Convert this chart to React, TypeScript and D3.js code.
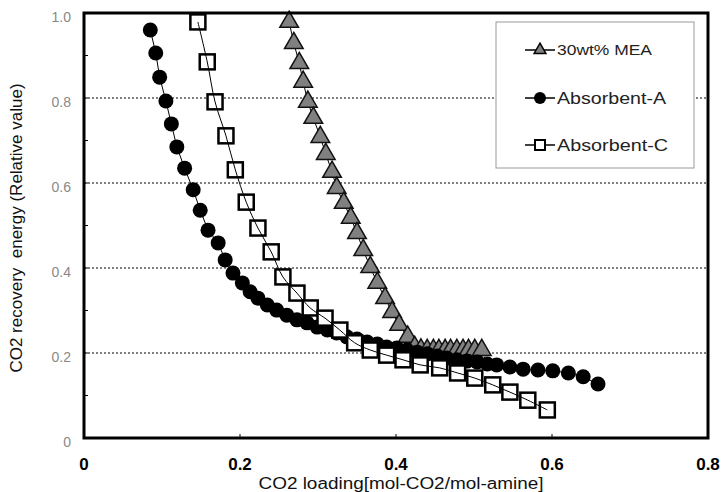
import * as d3 from 'd3';

// CO2 loading (x) vs relative recovery energy (y)
const meaX = [0.263, 0.269, 0.276, 0.281, 0.287, 0.294, 0.303, 0.31, 0.318, 0.324, 0.333, 0.342, 0.35, 0.358, 0.367, 0.376, 0.386, 0.395, 0.404, 0.415, 0.424, 0.432, 0.44, 0.448, 0.455, 0.463, 0.47, 0.478, 0.486, 0.493, 0.501, 0.51];
const meaY = [0.979, 0.929, 0.882, 0.838, 0.791, 0.753, 0.708, 0.668, 0.626, 0.588, 0.553, 0.518, 0.482, 0.442, 0.402, 0.365, 0.329, 0.296, 0.266, 0.238, 0.214, 0.208, 0.207, 0.207, 0.207, 0.207, 0.207, 0.207, 0.207, 0.207, 0.207, 0.207];

const absAX = [0.085, 0.092, 0.097, 0.105, 0.112, 0.119, 0.129, 0.14, 0.149, 0.159, 0.172, 0.181, 0.191, 0.203, 0.213, 0.223, 0.235, 0.247, 0.26, 0.273, 0.286, 0.299, 0.312, 0.324, 0.337, 0.35, 0.363, 0.376, 0.388, 0.401, 0.414, 0.427, 0.44, 0.453, 0.465, 0.478, 0.491, 0.504, 0.517, 0.529, 0.546, 0.563, 0.582, 0.601, 0.621, 0.64, 0.659];
const absAY = [0.96, 0.906, 0.849, 0.793, 0.739, 0.685, 0.635, 0.584, 0.536, 0.489, 0.459, 0.419, 0.388, 0.365, 0.344, 0.329, 0.313, 0.301, 0.289, 0.278, 0.271, 0.261, 0.254, 0.247, 0.238, 0.233, 0.226, 0.221, 0.214, 0.212, 0.207, 0.202, 0.198, 0.193, 0.188, 0.184, 0.181, 0.179, 0.174, 0.172, 0.167, 0.162, 0.16, 0.158, 0.153, 0.144, 0.127];

const absCX = [0.146, 0.158, 0.168, 0.182, 0.194, 0.208, 0.223, 0.24, 0.255, 0.273, 0.29, 0.309, 0.328, 0.347, 0.367, 0.388, 0.409, 0.431, 0.456, 0.479, 0.501, 0.524, 0.546, 0.569, 0.594];
const absCY = [0.979, 0.885, 0.791, 0.711, 0.631, 0.555, 0.494, 0.438, 0.379, 0.341, 0.306, 0.282, 0.254, 0.224, 0.207, 0.195, 0.184, 0.172, 0.165, 0.153, 0.141, 0.125, 0.108, 0.089, 0.066];

const xTicks = [0, 0.2, 0.4, 0.6, 0.8];
const xTickLabels = ['0', '0.2', '0.4', '0.6', '0.8'];
const yTicks = [0, 0.2, 0.4, 0.6, 0.8, 1.0];
const yTickLabels = ['0', '0.2', '0.4', '0.6', '0.8', '1.0'];
const gridValues = [0.2, 0.4, 0.6, 0.8];
const legendLabels = ['30wt% MEA', 'Absorbent-A', 'Absorbent-C'];

const W = 722, H = 492;
const FONT = 'Arial, "Liberation Sans", sans-serif';

const zip = (xs: number[], ys: number[]) => xs.map((x, i) => [x, ys[i]] as [number, number]);

export default function App() {
  const x = d3.scaleLinear().domain([0, 0.8]).range([84, 708]);
  const y = d3.scaleLinear().domain([0, 1]).range([438, 13]);

  const line = d3.line<[number, number]>().x(d => x(d[0])).y(d => y(d[1]));
  const smooth = d3.line<[number, number]>().x(d => x(d[0])).y(d => y(d[1])).curve(d3.curveCatmullRom);

  const mea = zip(meaX, meaY);
  const absA = zip(absAX, absAY);
  const absC = zip(absCX, absCY);

  const tri = d3.symbol().type(d3.symbolTriangle).size(150)();
  const triSmall = d3.symbol().type(d3.symbolTriangle).size(60)();

  const minorY = d3.range(1, 10).map(i => i / 10);

  const legendRows = [50, 98, 145];
  const legendWidths = [95, 109, 111];

  return (
    <svg width={W} height={H} style={{ position: 'absolute', left: 0, top: 0, background: '#fff' }}>
      <rect x={0} y={0} width={W} height={H} fill="#fff" />
      {/* gridlines */}
      {gridValues.map(v => (
        <line key={v} x1={x(0)} x2={x(0.8)} y1={y(v)} y2={y(v)} stroke="#000" strokeWidth={1} strokeDasharray="2,2" />
      ))}
      {/* minor ticks on y */}
      {minorY.map(v => (
        <line key={v} x1={x(0)} x2={x(0) + 4} y1={y(v)} y2={y(v)} stroke="#000" strokeWidth={1} />
      ))}
      {xTicks.slice(1, -1).map(v => (
        <line key={v} x1={x(v)} x2={x(v)} y1={y(0)} y2={y(0) - 4} stroke="#000" strokeWidth={1} />
      ))}

      {/* legend box */}
      <rect x={496} y={22} width={198} height={146} fill="#fff" stroke="#999" strokeWidth={1} />
      {legendRows.map((ly, i) => (
        <g key={i}>
          <line x1={525} x2={555} y1={ly} y2={ly} stroke="#000" strokeWidth={1.5} />
          {i === 0 && <path d={triSmall} transform={`translate(540,${ly})`} fill="#808080" stroke="#000" strokeWidth={1.5} />}
          {i === 1 && <circle cx={540} cy={ly} r={6} fill="#000" />}
          {i === 2 && <rect x={535} y={ly - 5} width={10} height={10} fill="#fff" stroke="#000" strokeWidth={2} />}
          <text x={557} y={ly} dy="0.36em" fontFamily={FONT} fontSize={i === 0 ? 15 : 17} fill="#222"
            textLength={legendWidths[i]} lengthAdjust="spacingAndGlyphs">
            {legendLabels[i]}
          </text>
        </g>
      ))}

      {/* 30wt% MEA */}
      <path d={line(mea) ?? ''} fill="none" stroke="#000" strokeWidth={1} />
      {mea.map((d, i) => (
        <path key={i} d={tri} transform={`translate(${x(d[0])},${y(d[1])})`} fill="#808080" stroke="#111" strokeWidth={1.5} />
      ))}

      {/* Absorbent-A */}
      <path d={line(absA) ?? ''} fill="none" stroke="#000" strokeWidth={1} />
      {absA.map((d, i) => (
        <circle key={i} cx={x(d[0])} cy={y(d[1])} r={7.5} fill="#000" />
      ))}

      {/* Absorbent-C */}
      {absC.map((d, i) => (
        <rect key={i} x={x(d[0]) - 7.5} y={y(d[1]) - 7.5} width={15} height={15} fill="#fff" stroke="#000" strokeWidth={2.5} />
      ))}
      <path d={smooth(absC) ?? ''} fill="none" stroke="#000" strokeWidth={1} />

      {/* frame */}
      <rect x={x(0)} y={y(1)} width={x(0.8) - x(0)} height={y(0) - y(1)} fill="none" stroke="#000" strokeWidth={3} />

      {/* y tick labels */}
      {yTicks.map((v, i) => (
        <text key={v} x={71} y={y(v) + 5} textAnchor="end" dominantBaseline="middle" fontFamily={FONT} fontSize={14} fill="#888">
          {yTickLabels[i]}
        </text>
      ))}
      {/* x tick labels */}
      {xTicks.map((v, i) => (
        <text key={v} x={x(v)} y={470} textAnchor="middle" fontFamily={FONT} fontSize={17} fontWeight="bold" fill="#000">
          {xTickLabels[i]}
        </text>
      ))}
      <text x={401} y={489} textAnchor="middle" fontFamily={FONT} fontSize={16} fill="#111"
        textLength={285} lengthAdjust="spacingAndGlyphs">
        CO2 loading[mol-CO2/mol-amine]
      </text>
      <text transform={`translate(22,228) rotate(-90)`} textAnchor="middle" fontFamily={FONT} fontSize={17} fill="#111"
        style={{ whiteSpace: 'pre' }}>
        {'CO2 recovery  energy (Relative value)'}
      </text>
    </svg>
  );
}
